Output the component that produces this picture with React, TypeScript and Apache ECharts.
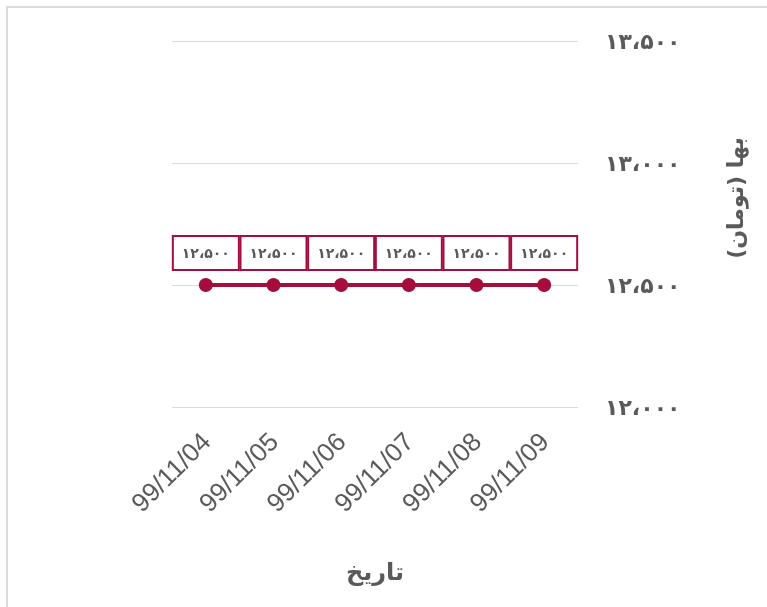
import React, { useEffect, useRef } from "react";
import * as echarts from "echarts";

const categories = ["99/11/04", "99/11/05", "99/11/06", "99/11/07", "99/11/08", "99/11/09"];
const prices = [12500, 12500, 12500, 12500, 12500, 12500];
const yMin = 12000;
const yMax = 13500;
const yInterval = 500;
const xAxisName = "تاریخ";
const yAxisName = "بها (تومان)";

const faDigits = ["۰", "۱", "۲", "۳", "۴", "۵", "۶", "۷", "۸", "۹"];
function toFa(v: number): string {
  const s = Math.round(v).toString().replace(/\B(?=(\d{3})+(?!\d))/g, "،");
  return s.replace(/\d/g, (d) => faDigits[Number(d)]);
}

const COLOR = "#a50d3d";
const TEXT = "#5a5a5a";

export default function App() {
  const ref = useRef<HTMLDivElement>(null);
  useEffect(() => {
    if (!ref.current) return;
    const chart = echarts.init(ref.current, undefined, { renderer: "svg" });
    chart.setOption({
      animation: false,
      grid: { left: 172, right: 189, top: 41, bottom: 200 },
      xAxis: {
        type: "category",
        data: categories,
        boundaryGap: true,
        axisLine: { show: false },
        axisTick: { show: false },
        axisLabel: {
          rotate: 45,
          margin: 30,
          color: TEXT,
          fontSize: 26,
          fontFamily: "Liberation Sans, Arial, sans-serif",
        },
        name: xAxisName,
        nameLocation: "middle",
        nameGap: 153,
        nameTextStyle: {
          color: TEXT,
          fontSize: 24,
          fontWeight: "bold",
          fontFamily: "DejaVu Sans, sans-serif",
        },
      },
      yAxis: {
        type: "value",
        position: "right",
        min: yMin,
        max: yMax,
        interval: yInterval,
        axisLine: { show: false },
        axisTick: { show: false },
        splitLine: { lineStyle: { color: "#d9d9d9", width: 1 } },
        axisLabel: {
          margin: 27,
          color: TEXT,
          fontSize: 22,
          fontWeight: "bold",
          fontFamily: "DejaVu Sans, sans-serif",
          formatter: (v: number) => toFa(v),
        },
      },
      graphic: [
        {
          type: "text",
          x: 735,
          y: 198,
          rotation: Math.PI / 2,
          style: {
            text: yAxisName,
            fill: TEXT,
            fontSize: 22,
            fontWeight: "bold",
            fontFamily: "DejaVu Sans, sans-serif",
            textAlign: "center",
            textVerticalAlign: "middle",
          },
        },
      ],
      series: [
        {
          type: "line",
          data: prices,
          symbol: "circle",
          symbolSize: 14,
          itemStyle: { color: COLOR },
          lineStyle: { color: COLOR, width: 4 },
          label: {
            show: true,
            position: "top",
            distance: 9,
            formatter: (p: any) => toFa(p.value),
            color: TEXT,
            fontSize: 14,
            fontWeight: "bold",
            fontFamily: "DejaVu Sans, sans-serif",
            backgroundColor: "#fff",
            borderColor: COLOR,
            borderWidth: 2,
            width: 54,
            height: 24,
            lineHeight: 24,
            align: "center",
            padding: [4, 5],
          },
        },
      ],
    });
    return () => chart.dispose();
  }, []);
  return (
    <>
      <div
        style={{
          position: "fixed",
          left: 6,
          top: 6,
          width: 761,
          height: 601,
          borderTop: "2px solid #dcdcdc",
          borderLeft: "2px solid #dcdcdc",
          boxSizing: "border-box",
        }}
      />
      <div ref={ref} style={{ position: "fixed", left: 0, top: 0, width: 767, height: 607 }} />
    </>
  );
}
